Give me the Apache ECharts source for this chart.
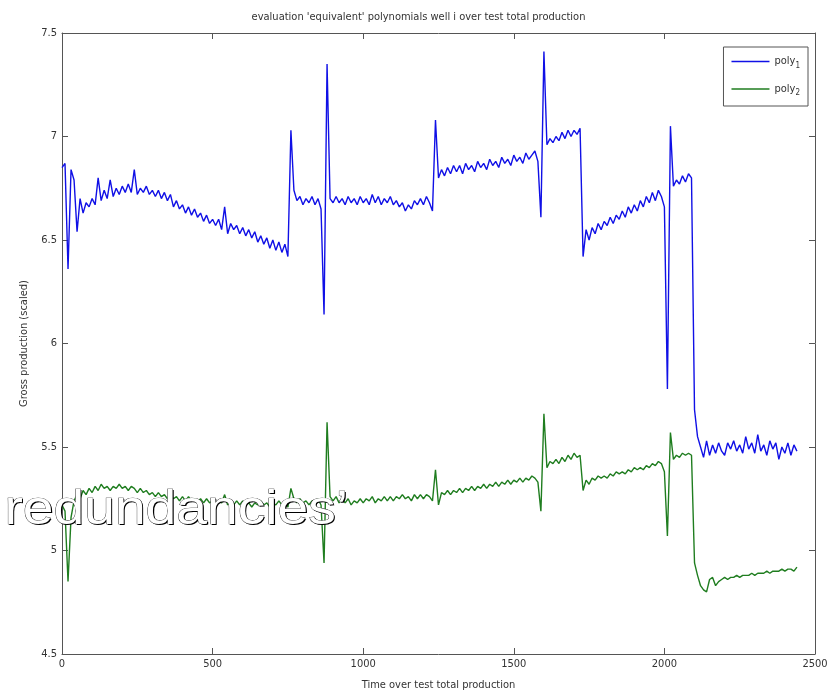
<!DOCTYPE html>
<html>
<head>
<meta charset="utf-8">
<script src="https://cdn.jsdelivr.net/npm/echarts@6/dist/echarts.min.js"></script>
<style>
html,body{margin:0;padding:0;background:#fff;}
#chart{width:837px;height:696px;}
</style>
</head>
<body>
<div id="chart"></div>
<script>
// Sample times (x)
var time = [0,10,20,30,40,50,60,70,80,90,
100,110,120,130,140,150,160,170,180,190,
200,210,220,230,240,250,260,270,280,290,
300,310,320,330,340,350,360,370,380,390,
400,410,420,430,440,450,460,470,480,490,
500,510,520,530,540,550,560,570,580,590,
600,610,620,630,640,650,660,670,680,690,
700,710,720,730,740,750,760,770,780,790,
800,810,820,830,840,850,860,870,880,890,
900,910,920,930,940,950,960,970,980,990,
1000,1010,1020,1030,1040,1050,1060,1070,1080,1090,
1100,1110,1120,1130,1140,1150,1160,1170,1180,1190,
1200,1210,1220,1230,1240,1250,1260,1270,1280,1290,
1300,1310,1320,1330,1340,1350,1360,1370,1380,1390,
1400,1410,1420,1430,1440,1450,1460,1470,1480,1490,
1500,1510,1520,1530,1540,1550,1560,1570,1580,1590,
1600,1610,1620,1630,1640,1650,1660,1670,1680,1690,
1700,1710,1720,1730,1740,1750,1760,1770,1780,1790,
1800,1810,1820,1830,1840,1850,1860,1870,1880,1890,
1900,1910,1920,1930,1940,1950,1960,1970,1980,1990,
2000,2010,2020,2030,2040,2050,2060,2070,2080,2090,
2100,2110,2120,2130,2140,2150,2160,2170,2180,2190,
2200,2210,2220,2230,2240,2250,2260,2270,2280,2290,
2300,2310,2320,2330,2340,2350,2360,2370,2380,2390,
2400,2410,2420,2430,2440];

var poly1 = [6.85,6.87,6.36,6.84,6.79,6.54,6.70,6.63,6.68,6.66,
6.70,6.67,6.80,6.69,6.74,6.70,6.79,6.71,6.75,6.72,
6.76,6.73,6.77,6.73,6.84,6.72,6.75,6.73,6.76,6.72,
6.74,6.71,6.74,6.70,6.73,6.69,6.72,6.66,6.69,6.65,
6.67,6.63,6.66,6.62,6.65,6.61,6.63,6.59,6.62,6.58,
6.60,6.57,6.60,6.55,6.66,6.53,6.58,6.55,6.57,6.53,
6.56,6.52,6.55,6.51,6.54,6.49,6.52,6.48,6.51,6.46,
6.50,6.45,6.49,6.44,6.48,6.42,7.03,6.74,6.69,6.71,
6.67,6.70,6.68,6.71,6.67,6.70,6.65,6.14,7.35,6.70,
6.68,6.71,6.68,6.70,6.67,6.71,6.68,6.70,6.67,6.71,
6.68,6.70,6.67,6.72,6.68,6.71,6.67,6.70,6.68,6.71,
6.67,6.69,6.66,6.68,6.64,6.67,6.65,6.69,6.67,6.70,
6.67,6.71,6.68,6.64,7.08,6.80,6.84,6.81,6.85,6.82,
6.86,6.83,6.86,6.82,6.87,6.84,6.86,6.83,6.88,6.85,
6.87,6.84,6.89,6.86,6.88,6.85,6.90,6.87,6.89,6.86,
6.91,6.88,6.90,6.87,6.92,6.89,6.91,6.93,6.88,6.61,
7.41,6.96,6.99,6.97,7.00,6.98,7.02,6.99,7.03,7.00,
7.03,7.01,7.04,6.42,6.55,6.50,6.56,6.53,6.58,6.55,
6.59,6.57,6.61,6.58,6.62,6.60,6.64,6.61,6.66,6.63,
6.67,6.64,6.69,6.66,6.71,6.68,6.73,6.69,6.74,6.71,
6.66,5.78,7.05,6.76,6.79,6.77,6.81,6.78,6.82,6.80,
5.68,5.55,5.50,5.45,5.53,5.46,5.51,5.47,5.52,5.48,
5.46,5.52,5.49,5.53,5.48,5.51,5.47,5.55,5.49,5.52,
5.47,5.56,5.48,5.51,5.46,5.53,5.49,5.52,5.44,5.50,
5.47,5.52,5.46,5.51,5.48];

var poly2 = [5.22,5.19,4.85,5.16,5.24,5.27,5.25,5.29,5.27,5.30,
5.28,5.31,5.29,5.32,5.30,5.31,5.29,5.31,5.30,5.32,
5.30,5.31,5.29,5.31,5.30,5.28,5.30,5.28,5.29,5.27,
5.28,5.26,5.28,5.26,5.27,5.25,5.27,5.25,5.26,5.24,
5.26,5.24,5.26,5.24,5.25,5.23,5.25,5.23,5.25,5.23,
5.24,5.22,5.24,5.23,5.27,5.22,5.24,5.22,5.24,5.22,
5.24,5.22,5.23,5.21,5.23,5.22,5.24,5.22,5.23,5.21,
5.23,5.22,5.24,5.22,5.23,5.21,5.30,5.25,5.23,5.25,
5.23,5.24,5.22,5.24,5.23,5.25,5.22,4.94,5.62,5.26,
5.24,5.26,5.23,5.25,5.23,5.25,5.22,5.24,5.23,5.25,
5.23,5.25,5.24,5.26,5.23,5.25,5.24,5.26,5.24,5.26,
5.24,5.26,5.25,5.27,5.25,5.26,5.24,5.27,5.25,5.27,
5.25,5.27,5.26,5.24,5.39,5.22,5.28,5.27,5.29,5.27,
5.29,5.28,5.30,5.28,5.30,5.29,5.31,5.29,5.31,5.30,
5.32,5.30,5.32,5.31,5.33,5.31,5.33,5.32,5.34,5.32,
5.34,5.33,5.35,5.33,5.35,5.34,5.36,5.35,5.33,5.19,
5.66,5.40,5.43,5.42,5.44,5.42,5.45,5.43,5.46,5.44,
5.47,5.45,5.46,5.29,5.34,5.32,5.35,5.34,5.36,5.35,
5.36,5.35,5.37,5.36,5.38,5.37,5.38,5.37,5.39,5.38,
5.40,5.39,5.40,5.39,5.41,5.40,5.42,5.41,5.43,5.42,
5.38,5.07,5.57,5.44,5.46,5.45,5.47,5.46,5.47,5.46,
4.94,4.88,4.83,4.81,4.80,4.86,4.87,4.83,4.85,4.86,
4.87,4.86,4.87,4.87,4.88,4.87,4.88,4.88,4.88,4.89,
4.88,4.89,4.89,4.89,4.90,4.89,4.90,4.90,4.90,4.91,
4.90,4.91,4.91,4.90,4.92];

var seriesNames = ['poly1', 'poly2'];
var xTicks = ['0','500','1000','1500','2000','2500'];

function pairs(xs, ys){ var out=[]; for (var i=0;i<xs.length;i++) out.push([xs[i], ys[i]]); return out; }

var narrow = "'Liberation Sans Narrow','DejaVu Sans Condensed',sans-serif";
var axisCol = '#555';
var overlayFont = "48px 'Liberation Sans', Arial, sans-serif";

var chart = echarts.init(document.getElementById('chart'), null, {renderer:'canvas'});
chart.setOption({
  animation: false,
  backgroundColor: '#fff',
  title: {
    text: "evaluation 'equivalent' polynomials well i over test total production",
    left: 'center', top: 7,
    textStyle: {fontFamily: narrow, fontSize: 11, fontWeight: 'normal', color: '#333'}
  },
  grid: {left: 62, right: 22, top: 33, bottom: 42, show: false},
  legend: {
    orient: 'vertical', right: 29, top: 47,
    backgroundColor: '#fff', borderColor: '#555', borderWidth: 1,
    padding: [9, 8, 9, 8], itemGap: 14, itemWidth: 38, itemHeight: 1.5,
    icon: 'rect',
    data: seriesNames,
    formatter: function(n){ return '{a|poly}{s|' + n.slice(4) + '}'; },
    textStyle: {
      fontFamily: narrow, color: '#333',
      rich: {
        a: {fontFamily: narrow, fontSize: 11, color: '#333'},
        s: {fontFamily: narrow, fontSize: 8, color: '#333', padding: [8, 0, 0, 0]}
      }
    }
  },
  xAxis: [{
    type: 'value', min: 0, max: 2500, interval: 500,
    name: 'Time over test total production', nameLocation: 'middle', nameGap: 26,
    nameTextStyle: {fontFamily: narrow, fontSize: 11, color: '#333'},
    axisLine: {show: true, onZero: false, lineStyle: {color: axisCol}},
    axisTick: {inside: true, length: 6, lineStyle: {color: axisCol}},
    axisLabel: {fontFamily: narrow, fontSize: 11, color: '#333', margin: 5,
      formatter: function(v){ return xTicks[Math.round(v/500)]; }},
    splitLine: {show: false}
  },{
    type: 'value', position: 'top', min: 0, max: 2500, interval: 500,
    axisLine: {show: true, onZero: false, lineStyle: {color: axisCol}},
    axisTick: {inside: true, length: 6, lineStyle: {color: axisCol}},
    axisLabel: {show: false}, splitLine: {show: false}
  }],
  yAxis: [{
    type: 'value', min: 4.5, max: 7.5, interval: 0.5,
    name: 'Gross production (scaled)', nameLocation: 'middle', nameGap: 32,
    nameTextStyle: {fontFamily: narrow, fontSize: 11, color: '#333'},
    axisLine: {show: true, onZero: false, lineStyle: {color: axisCol}},
    axisTick: {inside: true, length: 6, lineStyle: {color: axisCol}},
    axisLabel: {fontFamily: narrow, fontSize: 11, color: '#333', margin: 5},
    splitLine: {show: false}
  },{
    type: 'value', position: 'right', min: 4.5, max: 7.5, interval: 0.5,
    axisLine: {show: true, onZero: false, lineStyle: {color: axisCol}},
    axisTick: {inside: true, length: 6, lineStyle: {color: axisCol}},
    axisLabel: {show: false}, splitLine: {show: false}
  }],
  series: [{
    name: 'poly1', type: 'line', xAxisIndex: 0, yAxisIndex: 0,
    data: pairs(time, poly1), symbol: 'none',
    lineStyle: {color: '#1010e6', width: 1.4}, itemStyle: {color: '#1010e6'}
  },{
    name: 'poly2', type: 'line', xAxisIndex: 0, yAxisIndex: 0,
    data: pairs(time, poly2), symbol: 'none',
    lineStyle: {color: '#1f7d1f', width: 1.4}, itemStyle: {color: '#1f7d1f'}
  }],
  graphic: [{
    type: 'text', left: 5.5, top: 487.5, z: 100, zlevel: 2, scaleX: 1.15,
    style: {
      text: 'redundancies\u2019', font: overlayFont,
      fill: '#000'
    }
  },{
    type: 'text', left: 4, top: 486, z: 101, zlevel: 2, scaleX: 1.15,
    style: {
      text: 'redundancies\u2019', font: overlayFont,
      fill: '#fff', stroke: '#000', lineWidth: 0.7
    }
  }]
});
</script>
</body>
</html>
